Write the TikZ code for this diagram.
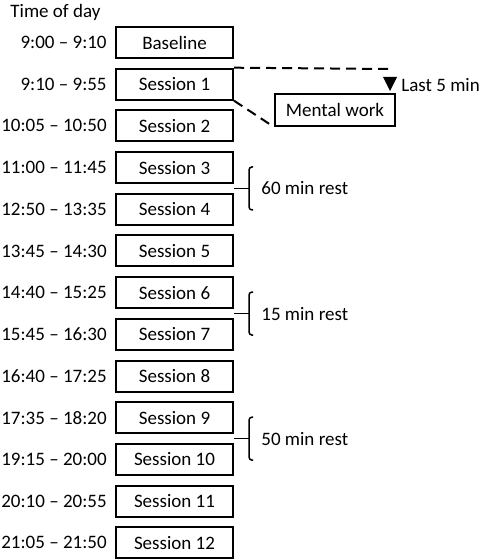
\documentclass[tikz,border=0pt]{standalone}
\usepackage{fontspec}
\setmainfont{Carlito}
\usetikzlibrary{positioning,calc}
\tikzset{
  sessbox/.style={draw, line width=1pt, minimum width=58.5pt, minimum height=15.5pt, inner sep=0pt, font=\fontsize{9.5}{11}\selectfont},
  timelbl/.style={inner sep=0pt, font=\fontsize{9.5}{11}\selectfont},
  restlbl/.style={inner sep=0pt, anchor=west, font=\fontsize{9.5}{11}\selectfont},
  dashline/.style={line width=1pt, dash pattern=on 5pt off 3pt},
  restbrace/.style={line width=0.75pt, rounded corners=1.5pt},
}

\begin{document}
\begin{tikzpicture}[x=0.5pt, y=-0.5pt]
  \useasboundingbox (0,0) rectangle (481,560);
  \node[restlbl] (hdr) at (10,12) {Time of day};
  % schedule
  \foreach \t/\lbl [count=\i from 0] in {9:00 -- 9:10/Baseline, 9:10 -- 9:55/Session 1, 10:05 -- 10:50/Session 2,
      11:00 -- 11:45/Session 3, 12:50 -- 13:35/Session 4, 13:45 -- 14:30/Session 5, 14:40 -- 15:25/Session 6,
      15:45 -- 16:30/Session 7, 16:40 -- 17:25/Session 8, 17:35 -- 18:20/Session 9, 19:15 -- 20:00/Session 10,
      20:10 -- 20:55/Session 11, 21:05 -- 21:50/Session 12} {
    \node[sessbox] (s\i) at (174.5, {42.5+41.7*\i}) {\lbl};
    \node[timelbl, left=4pt of s\i] (t\i) {\t};
  }
  % mental work detail
  \node[sessbox, minimum width=60pt, minimum height=16pt] (mental) at (335,110) {Mental work};
  \coordinate (dashend) at (391,69);
  \draw[dashline] (s1.north east) -- (dashend);
  \draw[dashline] (s1.south east) -- (mental.south west);
  \fill (383,77) -- (397,77) -- (390,91) -- cycle;
  \node[restlbl] (last) at (401,85) {Last 5 min};
  % rests
  \foreach \a/\b/\r in {3/4/60, 6/7/15, 9/10/50} {
    \coordinate (m\a) at ($(s\a.south east)!0.5!(s\b.north east)$);
    \coordinate (b\a) at ($(m\a)+(15,0)$);
    \draw[restbrace] (m\a) -- (b\a);
    \draw[restbrace] ($(b\a)+(4,-21.5)$) -- ($(b\a)+(0,-21.5)$) -- ($(b\a)+(0,21.5)$) -- ($(b\a)+(4,21.5)$);
    \node[restlbl, right=6pt of b\a] (r\a) {\r\ min rest};
  }
\end{tikzpicture}
\end{document}
